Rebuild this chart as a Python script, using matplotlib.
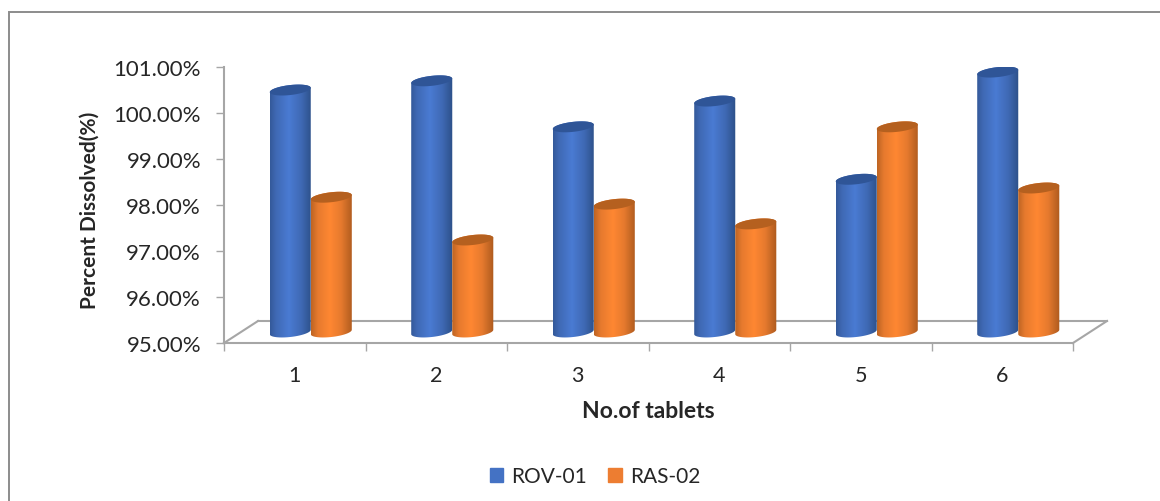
import numpy as np
import matplotlib
matplotlib.use("Agg")
import matplotlib.pyplot as plt
from matplotlib.colors import LinearSegmentedColormap
from matplotlib.patches import Patch, Polygon, Rectangle
from matplotlib.transforms import Affine2D, IdentityTransform

plt.rcParams["font.family"] = ["Lato", "DejaVu Sans"]

categories = ["1", "2", "3", "4", "5", "6"]
rov_01 = [100.26, 100.46, 99.46, 100.02, 98.32, 100.65]
ras_02 = [97.93, 97.00, 97.78, 97.35, 99.46, 98.13]
y_ticks = [95, 96, 97, 98, 99, 100, 101]

W, H = 1160, 502
GREY = "#a6a6a6"
TEXT = "#262626"
BAR_W = 0.29
DX, DY = 16, 11  # cylinders sit halfway back on the floor
FLOOR_DX, FLOOR_DY = 34, 22

blue_cmap = LinearSegmentedColormap.from_list(
    "blue", [(0, "#34599a"), (0.14, "#3f69b4"), (0.45, "#4a7bd3"), (0.75, "#3f69b4"), (1, "#2c5088")])
orange_cmap = LinearSegmentedColormap.from_list(
    "orange", [(0, "#bd6423"), (0.16, "#e67a2e"), (0.45, "#ff8732"), (0.72, "#e67a2e"), (1, "#ad5a1e")])


def ellipse_points(cx, cy, w, start, stop):
    # slightly tilted ellipse, pixel coords
    t = np.linspace(start, stop, 40)
    x = cx + w / 2 * np.cos(t)
    y = cy + 5 * np.sin(t) + 2.2 * np.cos(t)
    return np.column_stack([x, y])


def cylinder(ax, x, value, cmap, top_color, z):
    to_px = ax.transData.transform
    x0, y0 = to_px((x - BAR_W / 2, 95))
    x1, y1 = to_px((x + BAR_W / 2, value))
    x0, x1 = x0 + DX, x1 + DX
    y0, y1 = y0 + DY, y1 + DY
    cx = (x0 + x1) / 2
    w = x1 - x0
    # bottom half of base, then top half of cap
    body = np.vstack([ellipse_points(cx, y0, w, np.pi, 2 * np.pi),
                      ellipse_points(cx, y1, w, 0, np.pi)])
    outline = Polygon(body, closed=True, transform=IdentityTransform(),
                      facecolor="none", edgecolor="none", zorder=z)
    ax.add_patch(outline)
    shift = ax.transData + Affine2D().translate(DX, DY)
    grad = np.linspace(0, 1, 128).reshape(1, -1)
    im = ax.imshow(grad, cmap=cmap, aspect="auto", zorder=z, transform=shift,
                   extent=(x - BAR_W / 2, x + BAR_W / 2, 94.5, value + 0.3),
                   interpolation="bilinear", clip_on=True)
    im.set_clip_path(outline)
    cap = ellipse_points(cx, y1, w, 0, 2 * np.pi)
    ax.add_patch(Polygon(cap, closed=True, transform=IdentityTransform(),
                         facecolor=top_color, edgecolor="none", zorder=z + 0.1))


fig = plt.figure(figsize=(W / 100, H / 100), dpi=100)
ax = fig.add_axes([224 / W, 1 - 344 / H, (1073 - 224) / W, (344 - 68) / H])
ax.set_xlim(0.5, 6.5)
ax.set_ylim(95, 101)

positions = np.arange(1, len(categories) + 1)

# floor of the 3-D box
floor_tr = ax.transData + Affine2D().translate(FLOOR_DX, FLOOR_DY)
ax.plot([0.5, 6.5], [95, 95], color=GREY, lw=1.5, transform=floor_tr, clip_on=False, zorder=1)
for xb in [0.5, 6.5]:
    p0 = ax.transData.transform((xb, 95))
    ax.plot([p0[0], p0[0] + FLOOR_DX], [p0[1], p0[1] + FLOOR_DY], color=GREY, lw=1.5,
            transform=IdentityTransform(), clip_on=False, zorder=1)

for i, xp in enumerate(positions):
    cylinder(ax, xp - BAR_W / 2, rov_01[i], blue_cmap, "#2f5597", 3 + i)
    cylinder(ax, xp + BAR_W / 2, ras_02[i], orange_cmap, "#b5601f", 3.5 + i)

ax.set_xlim(0.5, 6.5)
ax.set_ylim(95, 101)
for im in ax.images:
    im.set_clip_box(None)

for side in ["top", "right"]:
    ax.spines[side].set_visible(False)
for side in ["left", "bottom"]:
    ax.spines[side].set_color(GREY)
    ax.spines[side].set_linewidth(1.5)

ax.set_yticks(y_ticks)
ax.set_yticklabels([f"{v:.2f}%" for v in y_ticks])
ax.set_xticks(np.arange(0.5, 7))
ax.set_xticklabels([])
ax.set_xticks(positions, labels=categories, minor=True)
ax.tick_params(axis="x", which="major", length=5.5, width=1, color=GREY)
ax.tick_params(axis="x", which="minor", length=0, pad=16, labelsize=15.5, labelcolor=TEXT)
ax.tick_params(axis="y", length=5.5, width=1, color=GREY, pad=11, labelsize=16, labelcolor=TEXT)
ax.patch.set_alpha(0)

fig.text(90 / W, 1 - 210 / H, "Percent Dissolved(%)", rotation=90, ha="center", va="center",
         fontsize=15, fontweight="bold", color=TEXT)
fig.text(648 / W, 1 - 411 / H, "No.of tablets", ha="center", va="center",
         fontsize=16.5, fontweight="bold", color=TEXT)

handles = [Patch(color="#4472c4", label="ROV-01"), Patch(color="#ed7d31", label="RAS-02")]
fig.legend(handles=handles, loc="center", bbox_to_anchor=(595 / W, 1 - 477 / H), ncol=2, frameon=False,
           fontsize=15, labelcolor=TEXT, handlelength=0.65, handleheight=0.65, handletextpad=0.4,
           columnspacing=1.0)

# chart frame runs off the right and bottom of the crop
fig.add_artist(Rectangle((8.5 / W, -0.02), 1.1, 1 - 13 / H + 0.02, transform=fig.transFigure,
                         facecolor="none", edgecolor="#8c8c8c", lw=1.4))

fig.savefig("out.png", dpi=100)
plt.close()
